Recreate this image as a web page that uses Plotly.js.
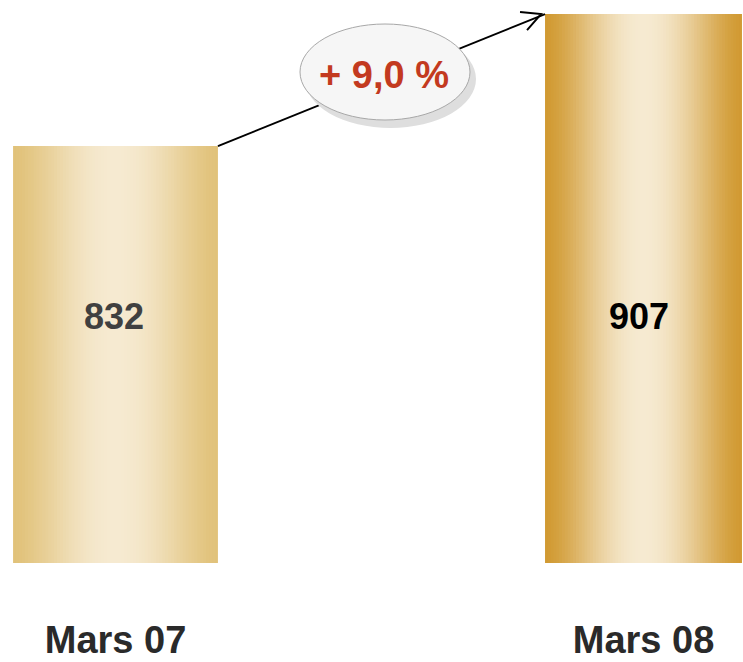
<!DOCTYPE html>
<html>
<head>
<meta charset="utf-8">
<script src="https://cdn.plot.ly/plotly-3.0.1.min.js"></script>
<style>html,body{margin:0;padding:0;background:#fff;}#chart{width:743px;height:662px;}</style>
</head>
<body>
<div id="chart"></div>
<script>
// ---- data ----
const categories = ['Mars 07', 'Mars 08'];
const values = [832, 907];
const valueLabels = ['832', '907'];
const changeLabel = '+ 9,0 %';

// ---- style ----
const barWidths = [0.388, 0.373];
const edgeColors = [[225, 194, 122], [209, 154, 50]];
const centerColors = [[246, 234, 209], [246, 234, 209]];
const valueColors = ['#404040', '#000000'];
const valueShifts = [-2, -5];
const N = 70;

function mix(c1, c2, f) {
  return 'rgb(' + c1.map((v, k) => Math.round(v + (c2[k] - v) * f)).join(',') + ')';
}

const traces = [];
for (let i = 0; i < N; i++) {
  const t = (i + 0.5) / N;
  const f = Math.pow(Math.sin(Math.PI * t), 1.5);
  const offs = [], wids = [], cols = [];
  for (let j = 0; j < categories.length; j++) {
    const w = barWidths[j];
    const s = w / N;
    const left = -w / 2 + i * s;
    offs.push(left);
    wids.push(i === N - 1 ? s : Math.min(s * 1.6, w / 2 - left));
    cols.push(mix(edgeColors[j], centerColors[j], f));
  }
  traces.push({
    type: 'bar', x: categories, y: values, offset: offs, width: wids,
    marker: {color: cols, line: {width: 0}}, showlegend: false, hoverinfo: 'skip'
  });
}

const lineStartX = 0 + barWidths[0] / 2;
const lineEndX = 1 - barWidths[1] / 2;

const layout = {
  width: 743, height: 662,
  margin: {l: 0, r: 0, t: 0, b: 99},
  paper_bgcolor: '#ffffff', plot_bgcolor: '#ffffff',
  barmode: 'overlay', hovermode: false, showlegend: false,
  xaxis: {
    type: 'category', range: [-0.21875, 1.18845],
    showgrid: false, zeroline: false, showline: false, ticks: '',
    ticklabelstandoff: 51,
    tickfont: {family: 'Liberation Sans, Arial, sans-serif', size: 38, color: '#2a2a2a', weight: 'bold'}
  },
  yaxis: {range: [595.1, 915], visible: false, showgrid: false, zeroline: false},
  shapes: [
    {type: 'line', xref: 'x', yref: 'y', x0: lineStartX, y0: values[0], x1: lineEndX, y1: values[1],
     line: {color: '#000000', width: 2}, layer: 'above'},
    {type: 'path', xref: 'x', yref: 'y', xsizemode: 'pixel', ysizemode: 'pixel',
     xanchor: lineEndX, yanchor: values[1],
     path: 'M -25,2 L -4,0 L -18,-16', line: {color: '#000000', width: 2}, layer: 'above'},
    {type: 'circle', xref: 'paper', yref: 'paper', x0: 305 / 743, x1: 476 / 743, y0: 1 - 128 / 563, y1: 1 - 30 / 563,
     fillcolor: '#dedede', line: {width: 0}, layer: 'above'},
    {type: 'circle', xref: 'paper', yref: 'paper', x0: 300 / 743, x1: 470 / 743, y0: 1 - 120 / 563, y1: 1 - 24 / 563,
     fillcolor: '#f6f6f6', line: {color: '#a8a8a8', width: 1}, layer: 'above'}
  ],
  annotations: [
    {xref: 'x', yref: 'y', x: categories[0], y: 735, text: valueLabels[0], showarrow: false,
     xanchor: 'center', yanchor: 'middle', xshift: valueShifts[0],
     font: {family: 'Liberation Sans, Arial, sans-serif', size: 36, color: valueColors[0], weight: 'bold'}},
    {xref: 'x', yref: 'y', x: categories[1], y: 735, text: valueLabels[1], showarrow: false,
     xanchor: 'center', yanchor: 'middle', xshift: valueShifts[1],
     font: {family: 'Liberation Sans, Arial, sans-serif', size: 36, color: valueColors[1], weight: 'bold'}},
    {xref: 'paper', yref: 'paper', x: 384 / 743, y: 1 - 75 / 563, text: changeLabel, showarrow: false,
     xanchor: 'center', yanchor: 'middle',
     font: {family: 'Liberation Sans, Arial, sans-serif', size: 38, color: '#c33a1f', weight: 'bold'}}
  ]
};

Plotly.newPlot('chart', traces, layout, {displayModeBar: false, staticPlot: true});
</script>
</body>
</html>
